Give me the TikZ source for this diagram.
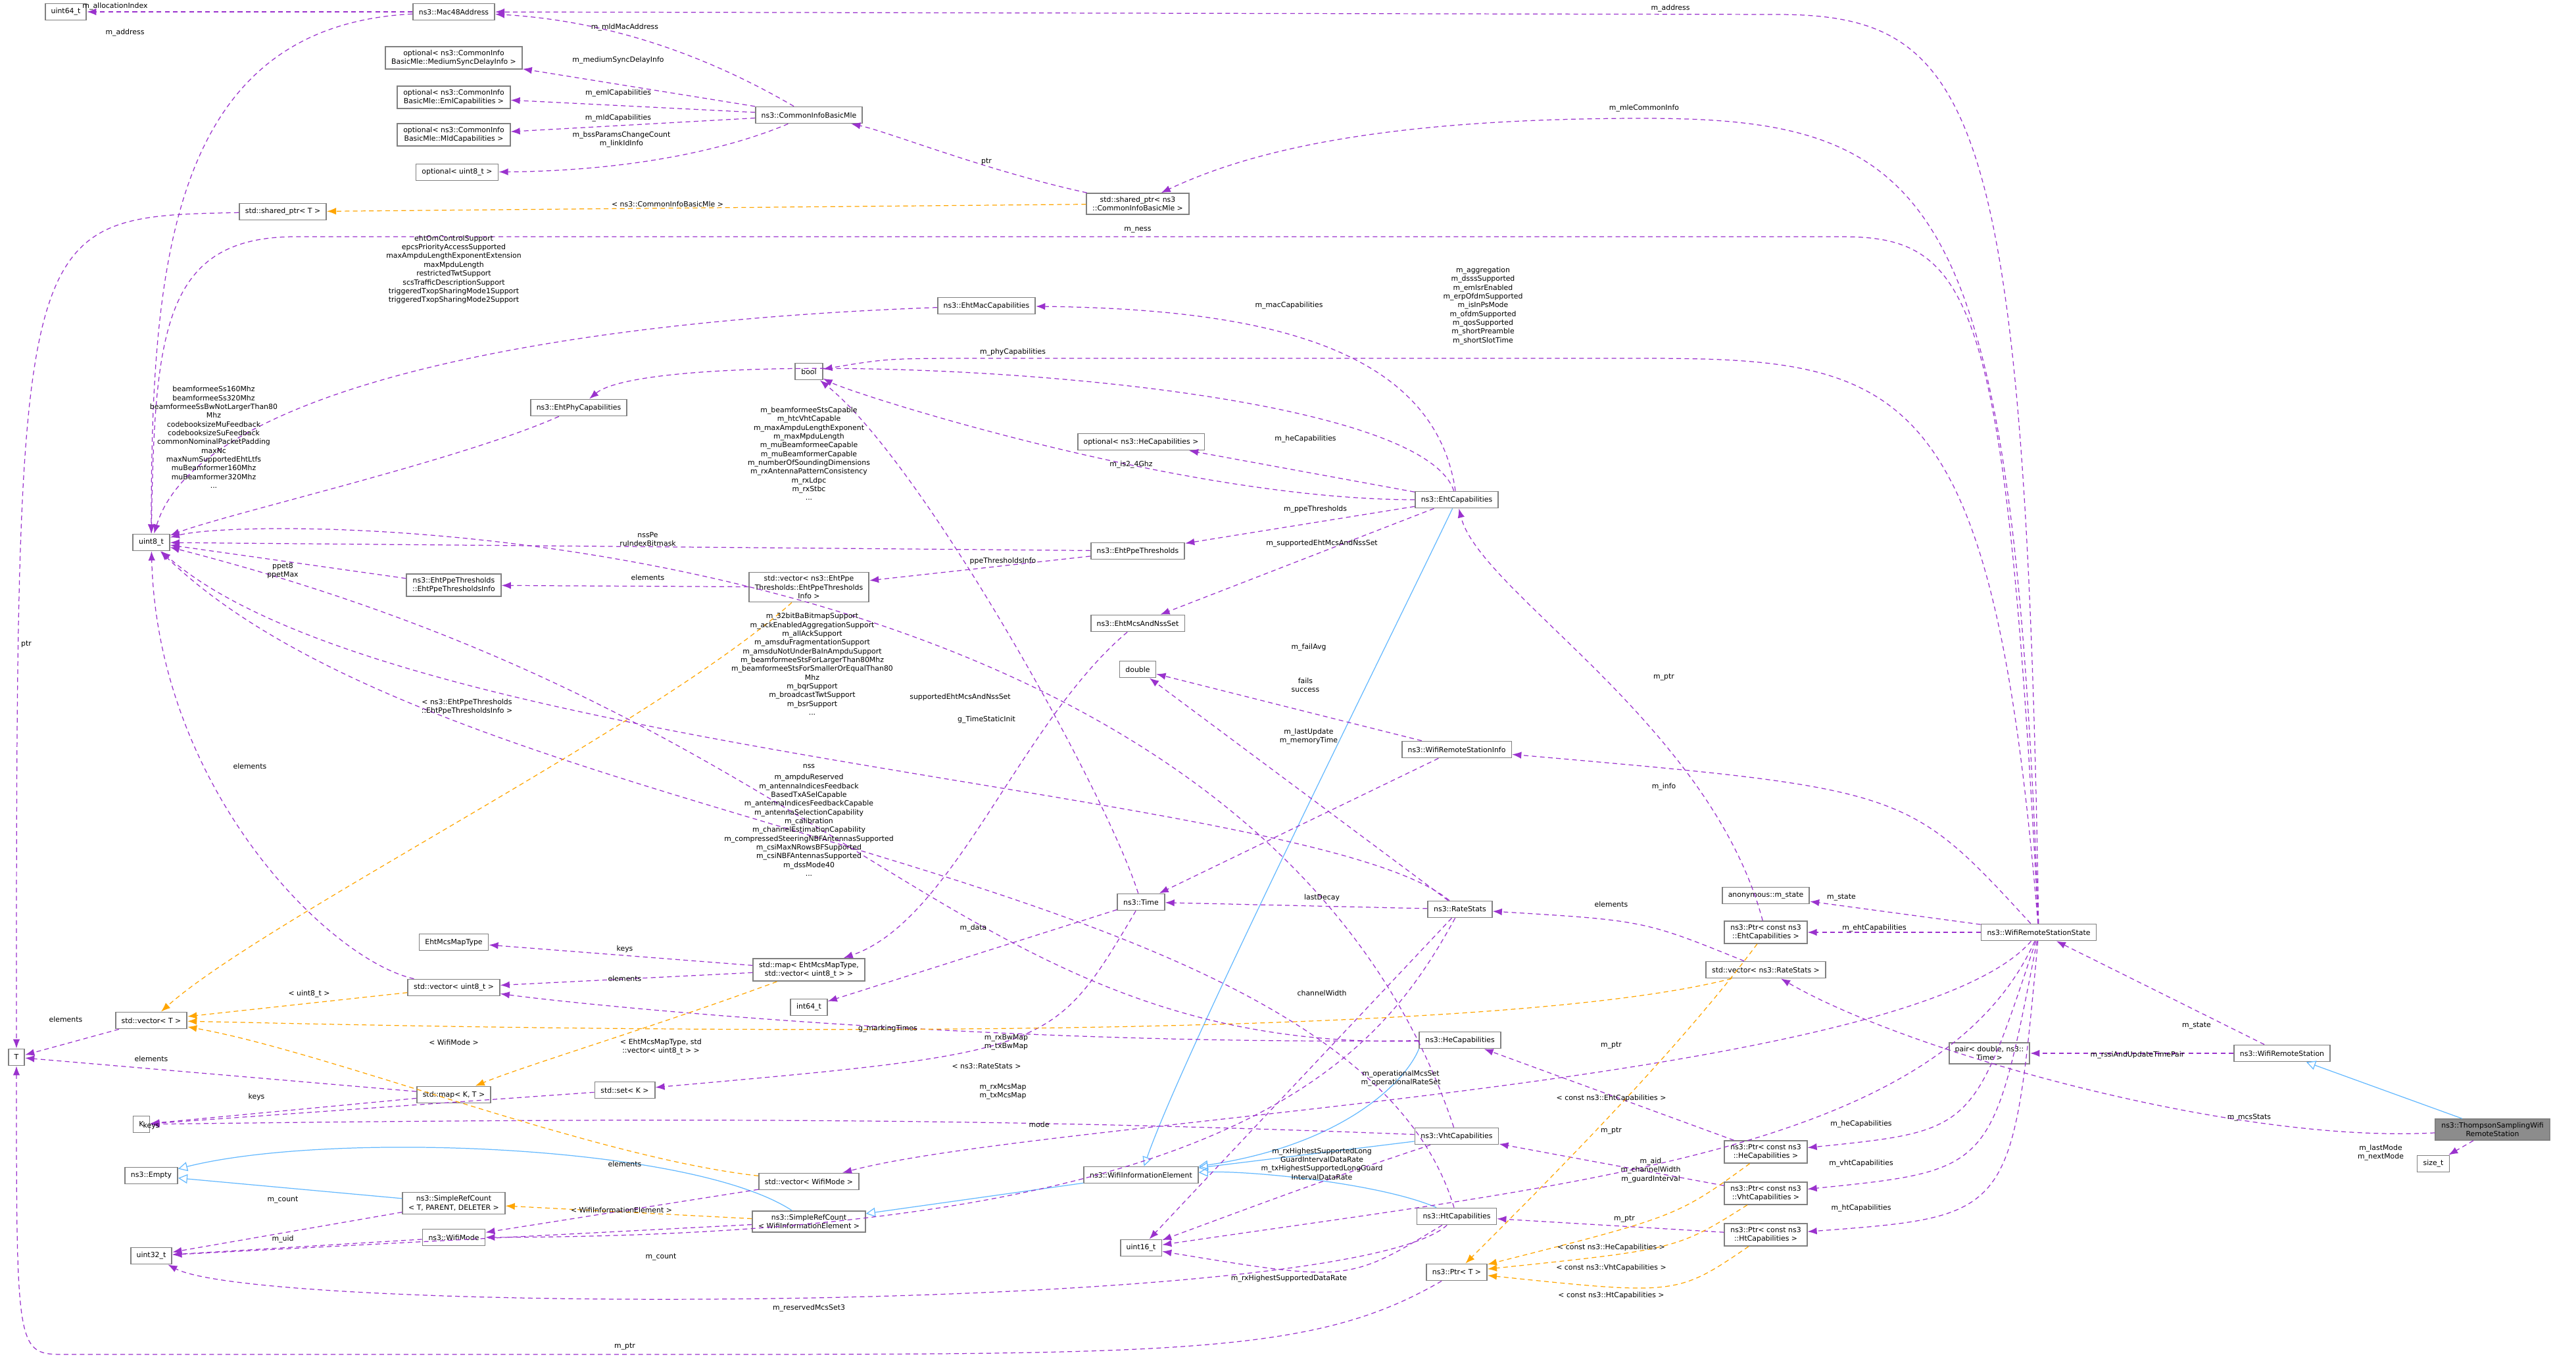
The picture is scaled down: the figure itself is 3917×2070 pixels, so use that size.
\documentclass[tikz,border=0pt]{standalone}
\usepackage{tikz}
\usepackage{fontspec}
\setmainfont{DejaVu Sans}
\usetikzlibrary{arrows.meta}
\definecolor{purpleedge}{HTML}{9A32CD}
\definecolor{orangeedge}{HTML}{FFA500}
\definecolor{blueedge}{HTML}{63B8FF}
\tikzstyle{cls} = [rectangle, draw=black!50, line width=0.5pt, fill=white, font=\fontsize{3.1}{3.8}\selectfont, inner xsep=0.09cm, inner ysep=0.05cm, minimum height=0.25cm, align=center]
\tikzstyle{main} = [cls, fill=black!45]
\tikzstyle{lbl} = [font=\fontsize{3.1}{3.8}\selectfont, align=center, inner sep=0.5pt]
\tikzstyle{mem} = [dashed, dash pattern=on 2pt off 1.5pt, draw=purpleedge, line width=0.35pt, -{Latex[length=4pt, width=3pt]}]
\tikzstyle{tpl} = [mem, draw=orangeedge]
\tikzstyle{inh} = [draw=blueedge, line width=0.35pt, -{Triangle[open, length=4pt, width=4pt]}]

\begin{document}
\begin{tikzpicture}[x=0.01cm, y=-0.01cm]
\useasboundingbox (0,0) rectangle (3917,2070);

\node (0) [cls] at (100,18) {uint64\_t};
\node (1) [cls] at (690,18) {ns3::Mac48Address};
\node (2) [cls] at (690,88) {optional< ns3::CommonInfo\\BasicMle::MediumSyncDelayInfo >};
\node (3) [cls] at (690,148) {optional< ns3::CommonInfo\\BasicMle::EmlCapabilities >};
\node (4) [cls] at (690,205) {optional< ns3::CommonInfo\\BasicMle::MldCapabilities >};
\node (5) [cls] at (695,262) {optional< uint8\_t >};
\node (6) [cls] at (1230,175) {ns3::CommonInfoBasicMle};
\node (7) [cls] at (430,322) {std::shared\_ptr< T >};
\node (8) [cls] at (1730,310) {std::shared\_ptr< ns3\\::CommonInfoBasicMle >};
\node (9) [cls] at (1500,465) {ns3::EhtMacCapabilities};
\node (10) [cls] at (1230,565) {bool};
\node (11) [cls] at (880,620) {ns3::EhtPhyCapabilities};
\node (12) [cls] at (1735,672) {optional< ns3::HeCapabilities >};
\node (13) [cls] at (2215,760) {ns3::EhtCapabilities};
\node (14) [cls] at (230,825) {uint8\_t};
\node (15) [cls] at (1730,838) {ns3::EhtPpeThresholds};
\node (16) [cls] at (690,890) {ns3::EhtPpeThresholds\\::EhtPpeThresholdsInfo};
\node (17) [cls] at (1230,893) {std::vector< ns3::EhtPpe\\Thresholds::EhtPpeThresholds\\Info >};
\node (18) [cls] at (1730,948) {ns3::EhtMcsAndNssSet};
\node (19) [cls] at (1730,1018) {double};
\node (20) [cls] at (2215,1140) {ns3::WifiRemoteStationInfo};
\node (21) [cls] at (2685,1362) {anonymous::m\_state};
\node (22) [cls] at (2685,1418) {ns3::Ptr< const ns3\\::EhtCapabilities >};
\node (23) [cls] at (3100,1418) {ns3::WifiRemoteStationState};
\node (24) [cls] at (2220,1383) {ns3::RateStats};
\node (25) [cls] at (1735,1372) {ns3::Time};
\node (26) [cls] at (690,1433) {EhtMcsMapType};
\node (27) [cls] at (1230,1475) {std::map< EhtMcsMapType,\\std::vector< uint8\_t > >};
\node (28) [cls] at (2685,1475) {std::vector< ns3::RateStats >};
\node (29) [cls] at (690,1502) {std::vector< uint8\_t >};
\node (30) [cls] at (230,1552) {std::vector< T >};
\node (31) [cls] at (1230,1532) {int64\_t};
\node (32) [cls] at (25,1608) {T};
\node (33) [cls] at (3025,1602) {pair< double, ns3::\\Time >};
\node (34) [cls] at (3470,1602) {ns3::WifiRemoteStation};
\node (35) [cls] at (2220,1582) {ns3::HeCapabilities};
\node (36) [cls] at (690,1665) {std::map< K, T >};
\node (37) [cls] at (950,1658) {std::set< K >};
\node (38) [cls] at (215,1710) {K};
\node (39) [main] at (3790,1718) {ns3::ThompsonSamplingWifi\\RemoteStation};
\node (40) [cls] at (3700,1770) {size\_t};
\node (41) [cls] at (2685,1752) {ns3::Ptr< const ns3\\::HeCapabilities >};
\node (42) [cls] at (2215,1728) {ns3::VhtCapabilities};
\node (43) [cls] at (230,1788) {ns3::Empty};
\node (44) [cls] at (690,1830) {ns3::SimpleRefCount\\< T, PARENT, DELETER >};
\node (45) [cls] at (1230,1797) {std::vector< WifiMode >};
\node (46) [cls] at (1735,1787) {ns3::WifiInformationElement};
\node (47) [cls] at (2685,1815) {ns3::Ptr< const ns3\\::VhtCapabilities >};
\node (48) [cls] at (1230,1858) {ns3::SimpleRefCount\\< WifiInformationElement >};
\node (49) [cls] at (690,1882) {ns3::WifiMode};
\node (50) [cls] at (230,1910) {uint32\_t};
\node (51) [cls] at (2215,1850) {ns3::HtCapabilities};
\node (52) [cls] at (2685,1878) {ns3::Ptr< const ns3\\::HtCapabilities >};
\node (53) [cls] at (1735,1898) {uint16\_t};
\node (54) [cls] at (2215,1935) {ns3::Ptr< T >};

% inheritance
\draw [inh] (39) -- (34);
\draw [inh] (13) .. controls (2100,1000) and (1800,1600) .. (46);
\draw [inh] (35.south west) .. controls (2140,1640) and (2050,1740) .. (46);
\draw [inh] (42) -- (46);
\draw [inh] (51) .. controls (2100,1800) and (1900,1780) .. (46);
\draw [inh] (46) -- (48);
\draw [inh] (44) -- (43);
\draw [inh] (48) .. controls (1050,1740) and (500,1720) .. (43);

% members
\draw [mem] (1) -- (0);
\draw [mem] (1) .. controls (260,40) and (230,400) .. (14);
\draw [mem] (6) .. controls (1050,70) and (900,30) .. (1);
\draw [mem] (6) -- (2);
\draw [mem] (6) -- (3);
\draw [mem] (6) -- (4);
\draw [mem] (6) .. controls (1100,230) and (950,260) .. (5);
\draw [mem] (8) .. controls (1500,260) and (1350,200) .. (6);
\draw [mem] (7) .. controls (25,330) .. (32);
\draw [mem] (23) .. controls (3080,150) and (3000,22) .. (2700,22) -- (1);
\draw [mem] (23) .. controls (3060,300) and (2950,180) .. (2500,180) .. controls (2100,180) and (1900,230) .. (8);
\draw [mem] (23) .. controls (3050,450) and (3000,360) .. (2800,360) -- (450,360) .. controls (250,360) and (235,500) .. (14);
\draw [mem] (23) .. controls (3030,580) and (2900,545) .. (2500,545) -- (1500,545) .. controls (1350,545) .. (10);
\draw [mem] (9) .. controls (800,490) and (300,600) .. (14);
\draw [mem] (13) .. controls (2180,520) and (1900,470) .. (9);
\draw [mem] (13) .. controls (2150,560) and (1000,520) .. (11);
\draw [mem] (13) .. controls (1800,760) and (1300,600) .. (10);
\draw [mem] (13) -- (12);
\draw [mem] (13) -- (15);
\draw [mem] (13) -- (18);
\draw [mem] (11) .. controls (700,700) and (350,780) .. (14);
\draw [mem] (15) -- (14);
\draw [mem] (15) -- (17);
\draw [mem] (16) -- (14);
\draw [mem] (17) -- (16);
\draw [mem] (18) .. controls (1550,1100) and (1450,1400) .. (27);
\draw [mem] (42) .. controls (1900,780) and (400,780) .. (14);
\draw [mem] (35) .. controls (1450,1600) and (1300,1100) .. (14);
\draw [mem] (51) .. controls (2050,1300) and (700,1280) .. (14);
\draw [mem] (24) .. controls (2000,1200) and (600,1150) .. (14);
\draw [mem] (24) -- (19);
\draw [mem] (24) -- (25);
\draw [mem] (24) -- (53);
\draw [mem] (24) .. controls (2100,1600) and (1900,1880) .. (49);
\draw [mem] (20) -- (19);
\draw [mem] (20) -- (25);
\draw [mem] (23) .. controls (2900,1200) .. (20);
\draw [mem] (25) .. controls (1680,1200) and (1400,700) .. (10);
\draw [mem] (25) -- (31);
\draw [mem] (25) .. controls (1600,1600) .. (37);
\draw [mem] (27) -- (26);
\draw [mem] (27) -- (29);
\draw [mem] (29) .. controls (500,1460) and (240,1200) .. (14);
\draw [mem] (30) -- (32);
\draw [mem] (36) -- (32);
\draw [mem] (36) -- (38);
\draw [mem] (37) -- (38);
\draw [mem] (23) -- (21);
\draw [mem] (23) -- (22);
\draw [mem] (22) .. controls (2600,1100) and (2250,900) .. (13);
\draw [mem] (28) .. controls (2500,1400) .. (24);
\draw [mem] (39) .. controls (3400,1740) and (2900,1600) .. (28);
\draw [mem] (39) -- (40);
\draw [mem] (34) -- (23);
\draw [mem] (34) -- (33);
\draw [mem] (23) .. controls (2900,1650) and (1600,1700) .. (45);
\draw [mem] (23) .. controls (3000,1720) .. (41);
\draw [mem] (23) .. controls (3030,1780) .. (47);
\draw [mem] (23) .. controls (3060,1850) .. (52);
\draw [mem] (23) .. controls (2950,1750) and (2400,1800) .. (53);
\draw [mem] (41) -- (35);
\draw [mem] (47) -- (42);
\draw [mem] (52) -- (51);
\draw [mem] (35) .. controls (1500,1590) and (900,1530) .. (29);
\draw [mem] (42) .. controls (1500,1700) and (1000,1700) .. (38);
\draw [mem] (42) .. controls (2000,1800) .. (53);
\draw [mem] (51) .. controls (2050,1950) .. (53);
\draw [mem] (51) .. controls (2050,2000) and (400,2000) .. (50);
\draw [mem] (54) .. controls (2000,2060) and (1800,2060) .. (1000,2060) -- (100,2060) .. controls (25,2060) .. (32);
\draw [mem] (44) -- (50);
\draw [mem] (48) -- (50);
\draw [mem] (49) -- (50);
\draw [mem] (45) -- (49);

% templates
\draw [tpl] (8) -- (7);
\draw [tpl] (17) .. controls (1000,1100) and (400,1400) .. (30);
\draw [tpl] (29) -- (30);
\draw [tpl] (28) .. controls (2200,1600) and (600,1560) .. (30);
\draw [tpl] (45) .. controls (900,1760) and (500,1600) .. (30);
\draw [tpl] (27) .. controls (1000,1560) and (800,1620) .. (36);
\draw [tpl] (48) -- (44);
\draw [tpl] (22) .. controls (2550,1600) and (2350,1800) .. (54);
\draw [tpl] (41) .. controls (2550,1850) .. (54);
\draw [tpl] (47) .. controls (2550,1900) .. (54);
\draw [tpl] (52) .. controls (2550,1970) .. (54);

% labels
\node (l0) [lbl] at (175,10) {m\_allocationIndex};
\node (l1) [lbl] at (190,50) {m\_address};
\node (l2) [lbl] at (950,42) {m\_mldMacAddress};
\node (l3) [lbl] at (940,92) {m\_mediumSyncDelayInfo};
\node (l4) [lbl] at (940,142) {m\_emlCapabilities};
\node (l5) [lbl] at (940,180) {m\_mldCapabilities};
\node (l6) [lbl] at (945,212) {m\_bssParamsChangeCount\\m\_linkIdInfo};
\node (l7) [lbl] at (1500,246) {ptr};
\node (l8) [lbl] at (40,980) {ptr};
\node (l9) [lbl] at (2540,13) {m\_address};
\node (l10) [lbl] at (2500,165) {m\_mleCommonInfo};
\node (l11) [lbl] at (1730,350) {m\_ness};
\node (l12) [lbl] at (2255,465) {m\_aggregation\\m\_dsssSupported\\m\_emlsrEnabled\\m\_erpOfdmSupported\\m\_isInPsMode\\m\_ofdmSupported\\m\_qosSupported\\m\_shortPreamble\\m\_shortSlotTime};
\node (l13) [lbl] at (690,410) {ehtOmControlSupport\\epcsPriorityAccessSupported\\maxAmpduLengthExponentExtension\\maxMpduLength\\restrictedTwtSupport\\scsTrafficDescriptionSupport\\triggeredTxopSharingMode1Support\\triggeredTxopSharingMode2Support};
\node (l14) [lbl] at (1960,465) {m\_macCapabilities};
\node (l15) [lbl] at (1540,536) {m\_phyCapabilities};
\node (l16) [lbl] at (1720,707) {m\_is2\_4Ghz};
\node (l17) [lbl] at (1985,668) {m\_heCapabilities};
\node (l18) [lbl] at (2000,775) {m\_ppeThresholds};
\node (l19) [lbl] at (2010,827) {m\_supportedEhtMcsAndNssSet};
\node (l20) [lbl] at (325,665) {beamformeeSs160Mhz\\beamformeeSs320Mhz\\beamformeeSsBwNotLargerThan80\\Mhz\\codebooksizeMuFeedback\\codebooksizeSuFeedback\\commonNominalPacketPadding\\maxNc\\maxNumSupportedEhtLtfs\\muBeamformer160Mhz\\muBeamformer320Mhz\\...};
\node (l21) [lbl] at (985,820) {nssPe\\ruIndexBitmask};
\node (l22) [lbl] at (430,868) {ppet8\\ppetMax};
\node (l23) [lbl] at (985,878) {elements};
\node (l24) [lbl] at (1525,853) {ppeThresholdsInfo};
\node (l25) [lbl] at (1460,1060) {supportedEhtMcsAndNssSet};
\node (l26) [lbl] at (1230,690) {m\_beamformeeStsCapable\\m\_htcVhtCapable\\m\_maxAmpduLengthExponent\\m\_maxMpduLength\\m\_muBeamformeeCapable\\m\_muBeamformerCapable\\m\_numberOfSoundingDimensions\\m\_rxAntennaPatternConsistency\\m\_rxLdpc\\m\_rxStbc\\...};
\node (l27) [lbl] at (1235,1010) {m\_32bitBaBitmapSupport\\m\_ackEnabledAggregationSupport\\m\_allAckSupport\\m\_amsduFragmentationSupport\\m\_amsduNotUnderBaInAmpduSupport\\m\_beamformeeStsForLargerThan80Mhz\\m\_beamformeeStsForSmallerOrEqualThan80\\Mhz\\m\_bqrSupport\\m\_broadcastTwtSupport\\m\_bsrSupport\\...};
\node (l28) [lbl] at (1230,1255) {m\_ampduReserved\\m\_antennaIndicesFeedback\\BasedTxASelCapable\\m\_antennaIndicesFeedbackCapable\\m\_antennaSelectionCapability\\m\_calibration\\m\_channelEstimationCapability\\m\_compressedSteeringNBFAntennasSupported\\m\_csiMaxNRowsBFSupported\\m\_csiNBFAntennasSupported\\m\_dssMode40\\...};
\node (l29) [lbl] at (1230,1166) {nss};
\node (l30) [lbl] at (1985,1042) {fails\\success};
\node (l31) [lbl] at (2010,1365) {lastDecay};
\node (l32) [lbl] at (2010,1510) {channelWidth};
\node (l33) [lbl] at (1580,1710) {mode};
\node (l34) [lbl] at (1990,985) {m\_failAvg};
\node (l35) [lbl] at (1990,1120) {m\_lastUpdate\\m\_memoryTime};
\node (l36) [lbl] at (2530,1197) {m\_info};
\node (l37) [lbl] at (1500,1095) {g\_TimeStaticInit};
\node (l38) [lbl] at (1480,1412) {m\_data};
\node (l39) [lbl] at (1350,1565) {g\_markingTimes};
\node (l40) [lbl] at (950,1443) {keys};
\node (l41) [lbl] at (950,1488) {elements};
\node (l42) [lbl] at (380,1165) {elements};
\node (l43) [lbl] at (100,1550) {elements};
\node (l44) [lbl] at (230,1610) {elements};
\node (l45) [lbl] at (390,1668) {keys};
\node (l46) [lbl] at (230,1712) {keys};
\node (l47) [lbl] at (2800,1365) {m\_state};
\node (l48) [lbl] at (2850,1412) {m\_ehtCapabilities};
\node (l49) [lbl] at (2530,1030) {m\_ptr};
\node (l50) [lbl] at (2450,1375) {elements};
\node (l51) [lbl] at (3420,1700) {m\_mcsStats};
\node (l52) [lbl] at (3620,1753) {m\_lastMode\\m\_nextMode};
\node (l53) [lbl] at (3340,1560) {m\_state};
\node (l54) [lbl] at (3250,1605) {m\_rssiAndUpdateTimePair};
\node (l55) [lbl] at (2130,1640) {m\_operationalMcsSet\\m\_operationalRateSet};
\node (l56) [lbl] at (2830,1710) {m\_heCapabilities};
\node (l57) [lbl] at (2830,1770) {m\_vhtCapabilities};
\node (l58) [lbl] at (2830,1838) {m\_htCapabilities};
\node (l59) [lbl] at (2510,1780) {m\_aid\\m\_channelWidth\\m\_guardInterval};
\node (l60) [lbl] at (2450,1590) {m\_ptr};
\node (l61) [lbl] at (2450,1720) {m\_ptr};
\node (l62) [lbl] at (2470,1854) {m\_ptr};
\node (l63) [lbl] at (1530,1585) {m\_rxBwMap\\m\_txBwMap};
\node (l64) [lbl] at (1525,1660) {m\_rxMcsMap\\m\_txMcsMap};
\node (l65) [lbl] at (2010,1770) {m\_rxHighestSupportedLong\\GuardIntervalDataRate\\m\_txHighestSupportedLongGuard\\IntervalDataRate};
\node (l66) [lbl] at (1960,1945) {m\_rxHighestSupportedDataRate};
\node (l67) [lbl] at (1230,1990) {m\_reservedMcsSet3};
\node (l68) [lbl] at (950,2048) {m\_ptr};
\node (l69) [lbl] at (430,1825) {m\_count};
\node (l70) [lbl] at (1005,1912) {m\_count};
\node (l71) [lbl] at (430,1885) {m\_uid};
\node (l72) [lbl] at (950,1770) {elements};
\node (l73) [lbl] at (1015,310) {< ns3::CommonInfoBasicMle >};
\node (l74) [lbl] at (710,1075) {< ns3::EhtPpeThresholds\\::EhtPpeThresholdsInfo >};
\node (l75) [lbl] at (470,1512) {< uint8\_t >};
\node (l76) [lbl] at (1500,1622) {< ns3::RateStats >};
\node (l77) [lbl] at (690,1585) {< WifiMode >};
\node (l78) [lbl] at (1005,1592) {< EhtMcsMapType, std\\::vector< uint8\_t > >};
\node (l79) [lbl] at (945,1840) {< WifiInformationElement >};
\node (l80) [lbl] at (2450,1670) {< const ns3::EhtCapabilities >};
\node (l81) [lbl] at (2450,1897) {< const ns3::HeCapabilities >};
\node (l82) [lbl] at (2450,1928) {< const ns3::VhtCapabilities >};
\node (l83) [lbl] at (2450,1970) {< const ns3::HtCapabilities >};

\end{tikzpicture}
\end{document}
